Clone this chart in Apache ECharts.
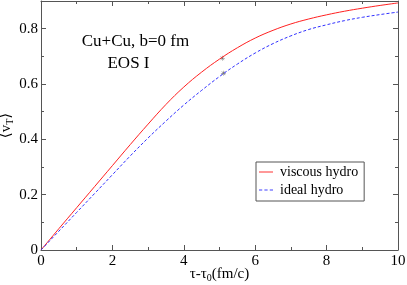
<!DOCTYPE html>
<html><head><meta charset="utf-8">
<script src="https://cdn.jsdelivr.net/npm/echarts@6/dist/echarts.min.js"></script>
<style>html,body{margin:0;padding:0;background:#fff}#c{width:407px;height:285px}</style>
</head><body><div id="c"></div>
<script>
const tau = [0,0.5,1,1.5,2,2.5,3,3.5,4,4.5,5,5.5,6,6.5,7,7.5,8,8.5,9,9.5,10];
const viscous = [0,0.077,0.153,0.229,0.305,0.381,0.455,0.526,0.589,0.643,0.690,0.731,0.766,0.794,0.817,0.835,0.850,0.863,0.874,0.884,0.893];
const ideal = [0,0.068,0.136,0.204,0.272,0.340,0.405,0.466,0.524,0.577,0.627,0.672,0.712,0.746,0.774,0.797,0.814,0.829,0.841,0.851,0.860];
const markX = [5.08, 5.11];
const markY = [0.693, 0.639];
const xTicks = [0,2,4,6,8,10];
const yTicks = [0,0.2,0.4,0.6,0.8];

const FONT = '"Liberation Serif","DejaVu Serif",serif';
const AX = '#555';
const chart = echarts.init(document.getElementById('c'), null, {renderer:'canvas'});
const baseAxis = {
  axisLine:{show:true, onZero:false, lineStyle:{color:AX, width:1}},
  axisTick:{show:true, inside:true, length:5, lineStyle:{color:AX}},
  minorTick:{show:true, splitNumber:2, length:3, lineStyle:{color:AX}},
  splitLine:{show:false},
};
const star = 'path://M4.5,0 L5.5,0 L5.5,10 L4.5,10 Z M0,4.5 L10,4.5 L10,5.5 L0,5.5 Z M1,1.7 L1.7,1 L9,8.3 L8.3,9 Z M8.3,1 L9,1.7 L1.7,9 L1,8.3 Z';
chart.setOption({
  animation:false,
  grid:{left:41, right:9, top:1, bottom:35, containLabel:false, outerBoundsMode:'none'},
  xAxis:[
    Object.assign({}, baseAxis, {type:'value', min:0, max:10, interval:2, position:'bottom',
      axisLabel:{color:'#000', fontFamily:FONT, fontSize:15, margin:4, formatter:v=>xTicks.includes(v)?String(v):''},
      name:'{a|τ-τ}{s|0}{a|(fm/c)}', nameLocation:'middle', nameGap:15, nameMoveOverlap:false,
      nameTextStyle:{rich:{a:{fontFamily:FONT, fontSize:15, color:'#000'}, s:{fontFamily:FONT, fontSize:10, color:'#000', verticalAlign:'bottom', padding:[8,0,0,0]}}}}),
    Object.assign({}, baseAxis, {type:'value', min:0, max:10, interval:2, position:'top', axisLabel:{show:false}})
  ],
  yAxis:[
    Object.assign({}, baseAxis, {type:'value', min:0, max:0.9, interval:0.2, position:'left',
      axisLabel:{color:'#000', fontFamily:FONT, fontSize:15, margin:3, formatter:v=>{const t=yTicks.find(k=>Math.abs(k-v)<1e-9);return t===undefined?'':String(t);}},
      name:'{a|⟨v}{s|T}{a|⟩}', nameLocation:'middle', nameGap:26, nameRotate:90, nameMoveOverlap:false,
      nameTextStyle:{rich:{a:{fontFamily:FONT, fontSize:15, color:'#000'}, s:{fontFamily:FONT, fontSize:10, color:'#000', padding:[8,0,0,0]}}}}),
    Object.assign({}, baseAxis, {type:'value', min:0, max:0.9, interval:0.2, position:'right', axisLabel:{show:false}})
  ],
  legend:{
    left:256, top:162, orient:'vertical', itemWidth:14, itemHeight:2, itemGap:4,
    padding:[3,6,4,3], borderColor:'#555', borderWidth:1,
    textStyle:{fontFamily:FONT, fontSize:14, color:'#000', padding:[0,0,0,2]},
    data:[{name:'viscous hydro', icon:'path://M0,0 L14,0 L14,1 L0,1 Z'}, {name:'ideal hydro', icon:'path://M0,0 L3,0 L3,1 L0,1 Z M5,0 L8,0 L8,1 L5,1 Z M10,0 L13,0 L13,1 L10,1 Z'}]
  },
  series:[
    {name:'viscous hydro', type:'line', smooth:0.4, symbol:'none', data:tau.map((x,i)=>[x,viscous[i]]),
      lineStyle:{color:'#ff2020', width:1}, itemStyle:{color:'#ff3030'}},
    {name:'ideal hydro', type:'line', smooth:0.4, symbol:'none', data:tau.map((x,i)=>[x,ideal[i]]),
      lineStyle:{color:'#3030ff', width:1, type:[3,2]}, itemStyle:{color:'#4040ff'}},
    {name:'marks', type:'scatter', symbol:star, symbolSize:5, data:markX.map((x,i)=>[x,markY[i]]),
      itemStyle:{color:'#555'}, silent:true}
  ],
  graphic:[
    {type:'text', style:{text:'Cu+Cu, b=0 fm', font:'17px '+FONT, fill:'#000', x:135.5, y:42, align:'center', verticalAlign:'middle'}},
    {type:'text', style:{text:'EOS I', font:'17px '+FONT, fill:'#000', x:128.5, y:64, align:'center', verticalAlign:'middle'}}
  ]
});
</script></body></html>
